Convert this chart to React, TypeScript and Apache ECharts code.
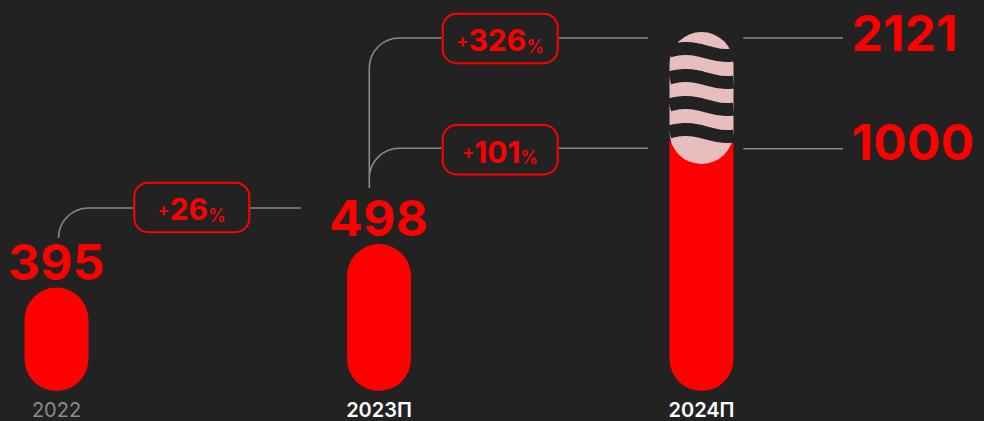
import React, { useEffect, useRef } from "react";
import * as echarts from "echarts";

// ---- data ----
const CATEGORIES = ["2022", "2023П", "2024П"];
const VALUES = [395, 498, 2121];
const BASE_PART = [null, null, 1000]; // red part of the truncated 2024П bar
const GROWTH = [26, 326, 101]; // 2023П vs 2022, 2024П (total) vs 2023П, 2024П (base) vs 2023П
const AXIS_MIN = 150;
const AXIS_MAX = 1000;

// ---- styles ----
const RED = "#ff0000";
const PINK = "#e8bdbd";
const BG = "#222222";
const LINE = "#8a8a8a";
const FONT = "Inter, 'Noto Sans', sans-serif";
const BAR_W = 64;

echarts.graphic.registerShape(
  "connectors",
  echarts.graphic.extendPath(
    "M58.5 238 A30 30 0 0 1 88.5 208 L133.3 208 M250 208 L301 208 " +
      "M369.3 188 L369.3 68 A30 30 0 0 1 399.3 38 L441.7 38 " +
      "M369.3 178.3 A30 30 0 0 1 399.3 148.3 L441.7 148.3 " +
      "M559 38 L648 38 M559 148.3 L648 148.3 " +
      "M743.3 38 L843 38 M743.3 148.7 L843 148.7",
    {}
  )
);

function badge(x: number, y: number, g: number) {
  return {
    type: "group",
    children: [
      {
        type: "rect",
        shape: { x: x + 1, y: y + 1, width: 115, height: 49.5, r: 14 },
        style: { fill: "none", stroke: RED, lineWidth: 2 },
      },
      {
        type: "text",
        x: x + 58.5,
        y: y + 27.5,
        style: {
          text: `{p|+}{n|${g}}{s|%}`,
          align: "center",
          verticalAlign: "middle",
          rich: {
            p: { fontSize: 18, fontWeight: 600, fontFamily: FONT, fill: RED, verticalAlign: "middle" },
            n: { fontSize: 30, fontWeight: 700, fontFamily: FONT, fill: RED, verticalAlign: "bottom" },
            s: { fontSize: 18, fontWeight: 500, fontFamily: FONT, fill: RED, verticalAlign: "bottom" },
          },
        },
      },
    ],
  };
}

export default function App() {
  const ref = useRef<HTMLDivElement>(null);
  useEffect(() => {
    document.body.style.margin = "0";
    document.body.style.background = BG;
    const chart = echarts.init(ref.current!, null, { renderer: "svg" });
    const option: any = {
      animation: false,
      backgroundColor: BG,
      grid: { left: 56.5, right: 282.5, top: 32, bottom: 30, containLabel: false },
      xAxis: {
        type: "category",
        data: CATEGORIES,
        boundaryGap: false,
        axisLine: { show: false },
        axisTick: { show: false },
        splitLine: { show: false },
        axisLabel: {
          margin: 9,
          formatter: (v: string, i: number) => (i === 0 ? `{a|${v}}` : `{b|${v}}`),
          rich: {
            a: { color: "#8c8c8c", fontSize: 20, lineHeight: 20, fontWeight: 400, fontFamily: FONT },
            b: { color: "#ffffff", fontSize: 20, lineHeight: 20, fontWeight: 600, fontFamily: FONT },
          },
        },
      },
      yAxis: { type: "value", min: AXIS_MIN, max: AXIS_MAX, show: false },
      series: [
        {
          type: "custom",
          data: VALUES.map((v, i) => [i, v]),
          renderItem: (params: any, api: any) => {
            const i = api.value(0);
            const v = api.value(1);
            const capped = Math.min(v, AXIS_MAX);
            const [cx, top] = api.coord([i, capped]);
            const bottom = api.coord([i, AXIS_MIN])[1];
            const r = BAR_W / 2;
            const children: any[] = [];
            if (v <= AXIS_MAX) {
              children.push({
                type: "rect",
                shape: { x: cx - r, y: top, width: BAR_W, height: bottom - top, r },
                style: { fill: RED },
              });
              children.push({
                type: "text",
                x: cx,
                y: top - 26,
                style: {
                  text: String(v),
                  fill: RED,
                  fontSize: 50,
                  fontWeight: 700,
                  fontFamily: FONT,
                  align: "center",
                  verticalAlign: "middle",
                },
              });
            } else {
              const redTop = top + 109;
              children.push({
                type: "rect",
                shape: { x: cx - r, y: redTop, width: BAR_W, height: bottom - redTop, r: [0, 0, r, r] },
                style: { fill: RED },
              });
              children.push({
                type: "rect",
                shape: { x: cx - r, y: top, width: BAR_W, height: 132, r },
                style: { fill: PINK },
              });
              for (let k = 0; k < 4; k++) {
                const pts: number[][] = [];
                const N = 32;
                for (let j = 0; j <= N; j++) {
                  const t = j / N;
                  pts.push([
                    cx - r + t * BAR_W,
                    top + 20 + 27 * k - 3.5 * Math.sin((2 * Math.PI * (t + 0.07)) / 1.3),
                  ]);
                }
                children.push({
                  type: "polyline",
                  shape: { points: pts },
                  style: { stroke: BG, lineWidth: 13, fill: null, lineCap: "butt" },
                });
              }
            }
            return { type: "group", children };
          },
        },
      ],
      graphic: [
        { type: "connectors", x: 0, y: 0, style: { fill: "none", stroke: LINE, lineWidth: 1.6 } },
        badge(133.3, 181.7, GROWTH[0]),
        badge(441.7, 12.7, GROWTH[1]),
        badge(441.7, 124, GROWTH[2]),
        {
          type: "text",
          x: 852,
          y: 33,
          style: {
            text: String(VALUES[2]),
            fill: RED,
            fontSize: 50,
            fontWeight: 700,
            fontFamily: FONT,
            align: "left",
            verticalAlign: "middle",
          },
        },
        {
          type: "text",
          x: 852,
          y: 142,
          style: {
            text: String(BASE_PART[2]),
            fill: RED,
            fontSize: 50,
            fontWeight: 700,
            fontFamily: FONT,
            align: "left",
            verticalAlign: "middle",
          },
        },
      ],
    };
    chart.setOption(option);
    return () => chart.dispose();
  }, []);
  return <div ref={ref} style={{ width: 984, height: 421 }} />;
}
